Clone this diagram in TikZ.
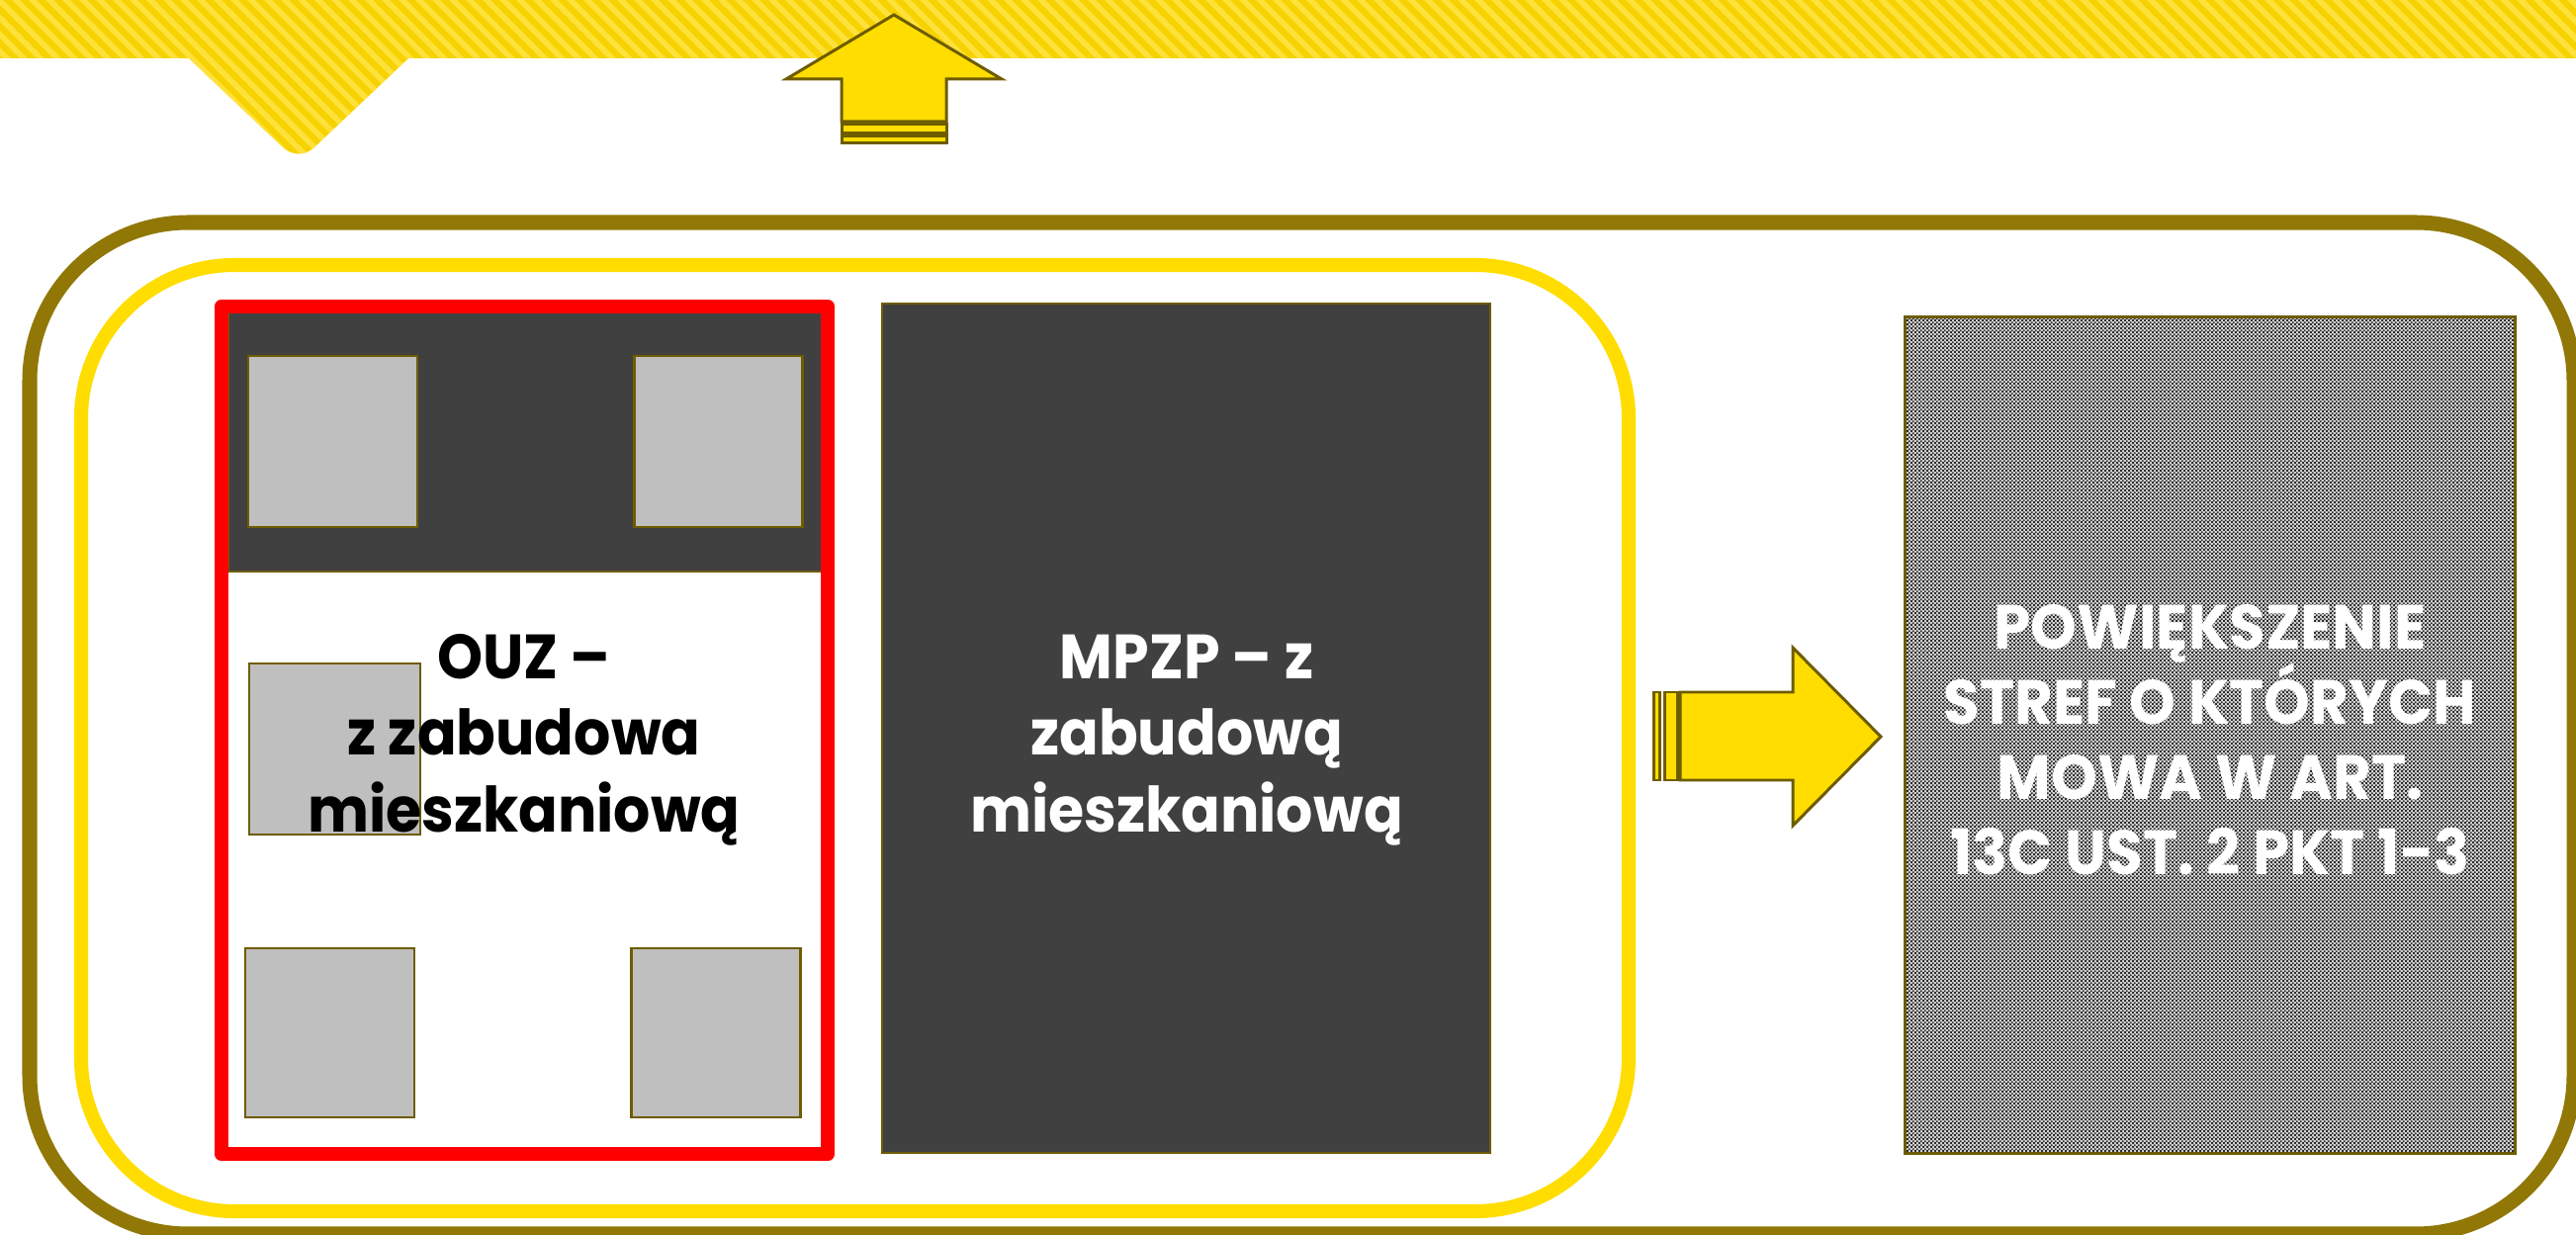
\documentclass[tikz,border=0pt]{standalone}
\usepackage{fontspec}
\setmainfont{Poppins}
\newfontfamily\lblfont{Poppins}[FakeStretch=0.925]
\newfontfamily\capfont{Poppins}[FakeStretch=0.94]
\usetikzlibrary{patterns.meta}
\definecolor{olivea}{RGB}{145,120,6}
\definecolor{yel}{RGB}{255,221,0}
\definecolor{dk}{RGB}{64,64,64}
\definecolor{lg}{RGB}{191,191,191}
\definecolor{ob}{RGB}{110,92,0}
\definecolor{bnA}{RGB}{246,211,0}
\definecolor{bnB}{RGB}{255,225,60}
\definecolor{chkdark}{RGB}{45,45,45}
\definecolor{chklight}{RGB}{215,215,215}
\tikzdeclarepattern{name=finechk, type=uncolored,
  bounding box={(0,0) and (1.2pt,1.2pt)}, tile size={(1.2pt,1.2pt)},
  code={\fill (0,0) rectangle (0.6pt,0.6pt); \fill (0.6pt,0.6pt) rectangle (1.2pt,1.2pt);}}
\begin{document}
\begin{tikzpicture}[x=0.01cm,y=-0.01cm,
  house/.style={fill=lg,draw=ob,line width=0.85pt},
  blockarrow/.style={fill=yel,draw=ob,line width=0.85pt,line join=miter},
  lbl/.style={align=center,font=\lblfont\fontsize{18pt}{22pt}\selectfont\bfseries,inner sep=0pt,anchor=base},
  caplbl/.style={align=center,font=\capfont\fontsize{18pt}{21.6pt}\selectfont\bfseries,inner sep=0pt,anchor=base}]
\useasboundingbox (0,0) rectangle (2605,1249);
\fill[white] (0,0) rectangle (2605,1249);
% banner
\begin{scope}
\path[clip] (0,0) -- (2605,0) -- (2605,59) -- (413,59) [rounded corners=6] -- (302,164) [sharp corners] -- (191,59) -- (0,59) -- cycle;
\fill[bnA] (0,0) rectangle (2605,200);
\foreach \i in {-300,-283,...,2700} \draw[bnB,line width=1.6pt] (\i,-10) -- ++(250,250);
\end{scope}
% frames
\draw[olivea,line width=4.27pt,rounded corners=1.6cm] (30,225) rectangle (2603,1248);
\draw[yel,line width=4pt,rounded corners=1.55cm] (82,268) rectangle (1647,1225);
% OUZ area
\draw[fill=dk,draw=ob,line width=0.6pt] (231,314) rectangle (831,578);
\draw[house] (251,360) rectangle (422,533);
\draw[house] (641,360) rectangle (811,533);
\draw[house] (252,671) rectangle (425,844);
\draw[house] (248,959) rectangle (419,1130);
\draw[house] (638,959) rectangle (809,1130);
\node[draw=red,line width=4pt,line join=round,minimum width=6.13cm,minimum height=8.57cm,inner sep=0pt] (ouz) at (530.5,738.5) {};
\node[lbl,text=black] (ouztxt) at (530,841) {OUZ –\\z zabudowa\\mieszkaniową};
% MPZP
\node[fill=dk,draw=ob,line width=0.6pt,minimum width=6.15cm,minimum height=8.59cm,inner sep=0pt] (mpzp) at (1199.5,736.5) {};
\node[lbl,text=white] (mpzptxt) at (1200,841) {MPZP – z\\zabudową\\mieszkaniową};
% right box
\node[draw=ob,line width=0.85pt,minimum width=6.16cm,minimum height=8.45cm,inner sep=0pt,
  postaction={fill=chklight},postaction={pattern=finechk,pattern color=chkdark},postaction={draw=ob,line width=0.85pt}] (pow) at (2235,743.5) {};
\node[caplbl,text=white] (powtxt) at (2235,884) {POWIĘKSZENIE\\STREF O KTÓRYCH\\MOWA W ART.\\13C UST. 2 PKT 1-3};
% right arrow
\draw[blockarrow] (1699,700) -- (1813,700) -- (1813,655) -- (1902,745) -- (1813,835) -- (1813,789) -- (1699,789) -- cycle;
\draw[blockarrow] (1672,700) rectangle (1678,789);
\draw[blockarrow] (1683,700) rectangle (1696,789);
% up arrow
\draw[blockarrow] (851,123) -- (851,80) -- (795,80) -- (904,15) -- (1013,80) -- (957,80) -- (957,123) -- cycle;
\draw[blockarrow] (851,126) rectangle (957,135);
\draw[blockarrow] (851,138) rectangle (957,145);
\end{tikzpicture}
\end{document}
